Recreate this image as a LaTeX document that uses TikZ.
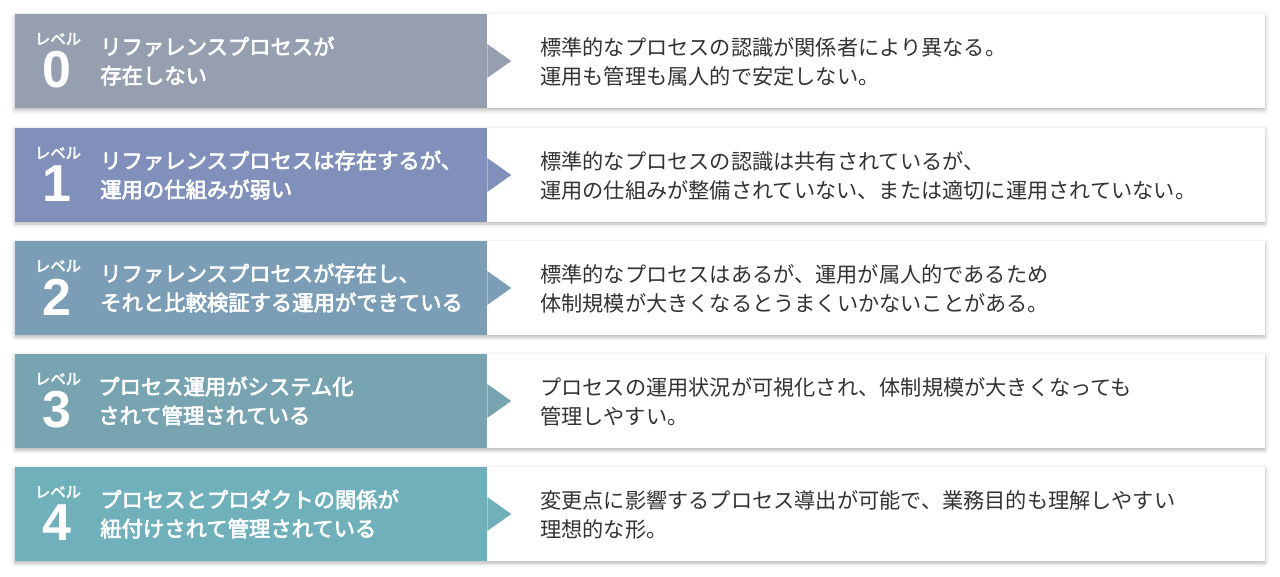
\documentclass[tikz,border=0pt]{standalone}
\usepackage{fontspec}
\setmainfont{Noto Sans CJK JP}
\newfontfamily\fontetitulo[FakeBold=3]{Noto Sans CJK JP}
\newfontfamily\fontedigito{Liberation Sans}
\usetikzlibrary{positioning,calc,shadows.blur}

\definecolor{cor0}{RGB}{149,159,176}
\definecolor{cor1}{RGB}{128,144,186}
\definecolor{cor2}{RGB}{123,157,182}
\definecolor{cor3}{RGB}{120,164,177}
\definecolor{cor4}{RGB}{112,176,186}
\definecolor{texto}{RGB}{51,51,51}

\tikzset{
  faixa/.style={rectangle, fill=white, minimum width=937.5pt, minimum height=70.5pt, inner sep=0pt,
    blur shadow={shadow xshift=0pt, shadow yshift=-1.5pt, shadow blur radius=3pt, shadow opacity=30}},
  nivel/.style={rectangle, minimum width=354pt, minimum height=70.5pt, inner sep=0pt, anchor=west},
  rotulo/.style={text=white, font=\fontetitulo\fontsize{11.5}{13}\selectfont, inner sep=0pt},
  digito/.style={text=white, font=\fontedigito\bfseries\fontsize{39}{39}\selectfont, inner sep=0pt},
  titulo/.style={text=white, font=\fontetitulo\fontsize{16}{21.75}\selectfont, align=left, anchor=west, inner sep=0pt},
  descricao/.style={text=texto, font=\fontsize{15.9}{21.75}\selectfont, align=left, anchor=west, inner sep=0pt}
}

\begin{document}
\begin{tikzpicture}[x=0.75pt, y=-0.75pt]
        \useasboundingbox (0,0) rectangle (1280,577);
        % faixas brancas
        \node[faixa] (f0) at (640,61) {};
        \node[faixa] (f1) at (640,175) {};
        \node[faixa] (f2) at (640,288) {};
        \node[faixa] (f3) at (640,401) {};
        \node[faixa] (f4) at (640,514) {};

        % blocos coloridos com seta
        \node[nivel, fill=cor0] (n0) at (f0.west) {};
        \node[nivel, fill=cor1] (n1) at (f1.west) {};
        \node[nivel, fill=cor2] (n2) at (f2.west) {};
        \node[nivel, fill=cor3] (n3) at (f3.west) {};
        \node[nivel, fill=cor4] (n4) at (f4.west) {};
        \fill[cor0] ($(n0.east)+(0,-17)$) -- ($(n0.east)+(24,0)$) -- ($(n0.east)+(0,17)$) -- cycle;
        \fill[cor1] ($(n1.east)+(0,-17)$) -- ($(n1.east)+(24,0)$) -- ($(n1.east)+(0,17)$) -- cycle;
        \fill[cor2] ($(n2.east)+(0,-17)$) -- ($(n2.east)+(24,0)$) -- ($(n2.east)+(0,17)$) -- cycle;
        \fill[cor3] ($(n3.east)+(0,-17)$) -- ($(n3.east)+(24,0)$) -- ($(n3.east)+(0,17)$) -- cycle;
        \fill[cor4] ($(n4.east)+(0,-17)$) -- ($(n4.east)+(24,0)$) -- ($(n4.east)+(0,17)$) -- cycle;

        % nivel 0
        \node[rotulo] (r0) at (58,39) {レベル};
        \node[digito] (d0) at (57,70) {0};
        \node[titulo] (t0) at (100,61) {リファレンスプロセスが\\存在しない};
        \node[descricao] (e0) at (540,62) {標準的なプロセスの認識が関係者により異なる。\\運用も管理も属人的で安定しない。};

        % nivel 1
        \node[rotulo] (r1) at (58,153) {レベル};
        \node[digito] (d1) at (57,184) {1};
        \node[titulo] (t1) at (100,175) {リファレンスプロセスは存在するが、\\運用の仕組みが弱い};
        \node[descricao] (e1) at (540,176) {標準的なプロセスの認識は共有されているが、\\運用の仕組みが整備されていない、または適切に運用されていない。};

        % nivel 2
        \node[rotulo] (r2) at (58,266) {レベル};
        \node[digito] (d2) at (57,297) {2};
        \node[titulo] (t2) at (100,288) {リファレンスプロセスが存在し、\\それと比較検証する運用ができている};
        \node[descricao] (e2) at (540,289) {標準的なプロセスはあるが、運用が属人的であるため\\体制規模が大きくなるとうまくいかないことがある。};

        % nivel 3
        \node[rotulo] (r3) at (58,379) {レベル};
        \node[digito] (d3) at (57,410) {3};
        \node[titulo] (t3) at (98,401) {プロセス運用がシステム化\\されて管理されている};
        \node[descricao] (e3) at (540,402) {プロセスの運用状況が可視化され、体制規模が大きくなっても\\管理しやすい。};

        % nivel 4
        \node[rotulo] (r4) at (58,492) {レベル};
        \node[digito] (d4) at (57,523) {4};
        \node[titulo] (t4) at (100,514) {プロセスとプロダクトの関係が\\紐付けされて管理されている};
        \node[descricao] (e4) at (540,515) {変更点に影響するプロセス導出が可能で、業務目的も理解しやすい\\理想的な形。};
    \end{tikzpicture}
\end{document}
